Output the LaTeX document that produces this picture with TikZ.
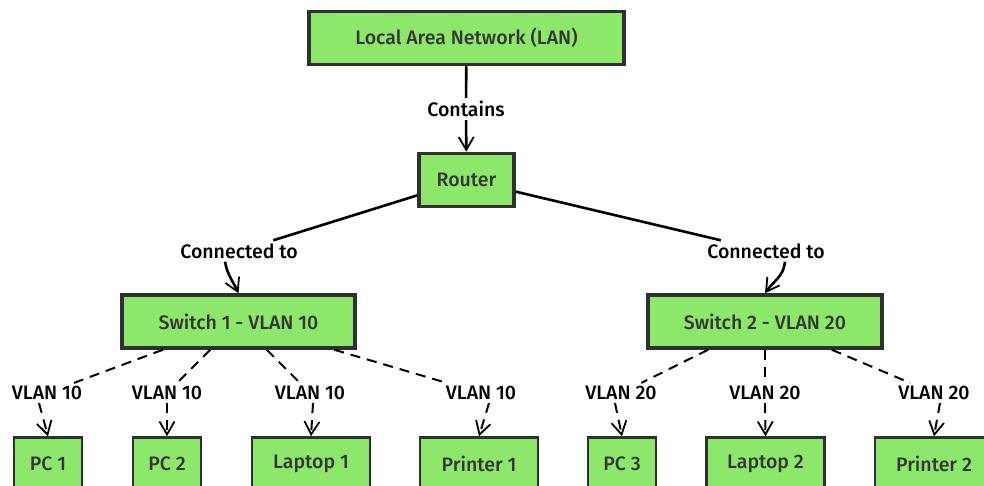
\documentclass[tikz,border=0pt]{standalone}
\usepackage{fontspec}
\setmainfont{Fira Sans}[UprightFont={* Medium}]
\usetikzlibrary{arrows.meta}
\definecolor{boxgreen}{HTML}{8DE76A}
\definecolor{boxline}{HTML}{303030}
\definecolor{boxtext}{HTML}{353535}
\tikzset{
  box/.style={draw=boxline, line width=3.5pt, fill=boxgreen, text=boxtext,
    font=\fontsize{19.5}{22}\selectfont, minimum height=53pt, inner sep=0pt},
  leaf/.style={box, line width=2.5pt, minimum width=68pt},
  wideleaf/.style={leaf, minimum width=118pt},
  lbl/.style={font=\fontsize{19.5}{22}\selectfont, inner sep=3pt, text=black},
  solidlink/.style={line width=2.6pt, black},
  dashlink/.style={line width=2pt, black, dash pattern=on 10pt off 7pt},
  tip/.style={-{Straight Barb[length=13pt,width=15pt,line width=1.8pt]}},
}
\begin{document}
\begin{tikzpicture}[x=1pt,y=-1pt]
\useasboundingbox (0,0) rectangle (984,486);
\clip (0,0) rectangle (984,486);

% boxes
\node[box, minimum width=315pt] (lan) at (466.5,38) {Local Area Network (LAN)};
\node[box, minimum width=95pt] (router) at (466.5,180) {Router};
\node[box, minimum width=233pt] (sw1) at (238.5,321.5) {Switch 1 - VLAN 10};
\node[box, minimum width=234pt] (sw2) at (765,321.5) {Switch 2 - VLAN 20};

\node[leaf]     (pc1) at (48,464)    {PC 1};
\node[leaf]     (pc2) at (167,464)   {PC 2};
\node[wideleaf] (lt1) at (311,464)   {Laptop 1};
\node[wideleaf] (pr1) at (479,464)   {Printer 1};
\node[leaf]     (pc3) at (622,464)   {PC 3};
\node[wideleaf] (lt2) at (765.5,464) {Laptop 2};
\node[wideleaf] (pr2) at (934,464)   {Printer 2};

% edge labels
\node[lbl] (contains) at (466,109) {Contains};
\node[lbl] (c1) at (239,251) {Connected to};
\node[lbl] (c2) at (766,251) {Connected to};
\node[lbl] (v1) at (47,393)  {VLAN 10};
\node[lbl] (v2) at (167,393) {VLAN 10};
\node[lbl] (v3) at (310,393) {VLAN 10};
\node[lbl] (v4) at (481,393) {VLAN 10};
\node[lbl] (v5) at (621,393) {VLAN 20};
\node[lbl] (v6) at (765,393) {VLAN 20};
\node[lbl] (v7) at (934,393) {VLAN 20};

% LAN -> router
\draw[solidlink] (lan) -- (contains);
\draw[solidlink, tip] (contains) -- (router);

% router -> switches
\draw[solidlink] (router) -- (c1);
\draw[solidlink, tip] ([xshift=-14pt]c1.south) to[out=-80, in=115] (sw1.north);
\draw[solidlink] (router) -- (c2);
\draw[solidlink, tip] ([xshift=19pt]c2.south) to[out=-95, in=55] (sw2.north);

% switch 1 -> devices
\draw[dashlink] (sw1) -- (v1);
\draw[dashlink] (sw1) -- (v2);
\draw[dashlink] (sw1) -- (v3);
\draw[dashlink] (sw1) -- (v4);
\draw[dashlink, tip] ([xshift=-8pt]v1.south) -- (pc1.north);
\draw[dashlink, tip] (v2.south) -- (pc2.north);
\draw[dashlink, tip] ([xshift=3pt]v3.south) -- (lt1.north);
\draw[dashlink, tip] ([xshift=8pt]v4.south) -- (pr1.north);

% switch 2 -> devices
\draw[dashlink] (sw2) -- (v5);
\draw[dashlink] (sw2) -- (v6);
\draw[dashlink] (sw2) -- (v7);
\draw[dashlink, tip] ([xshift=-6pt]v5.south) -- (pc3.north);
\draw[dashlink, tip] (v6.south) -- (lt2.north);
\draw[dashlink, tip] ([xshift=6pt]v7.south) -- (pr2.north);
\end{tikzpicture}
\end{document}
